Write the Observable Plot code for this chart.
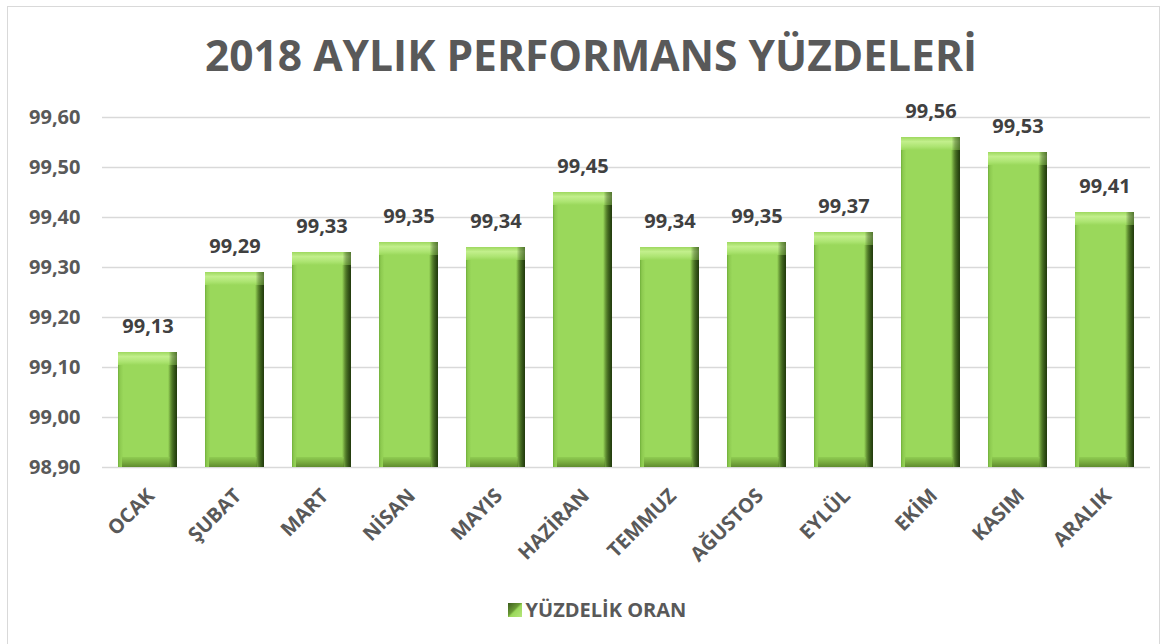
<!DOCTYPE html>
<html><head><meta charset="utf-8">
<script src="https://cdn.jsdelivr.net/npm/d3@7"></script>
<script src="https://cdn.jsdelivr.net/npm/@observablehq/plot@0.6"></script>
<style>
body{margin:0;background:#fff;font-family:"Open Sans",sans-serif;width:1174px;height:644px;overflow:hidden;position:relative}
#frame{position:absolute;left:7px;top:6px;width:1153px;height:660px;border:1px solid #d9d9d9;box-sizing:border-box}
#title{position:absolute;left:4px;top:26px;width:1174px;text-align:center;font-size:42.5px;font-weight:700;color:#595959;white-space:nowrap}
#chart{position:absolute;left:0;top:90px}
#legend{position:absolute;top:596px;left:10px;width:1174px;display:flex;justify-content:center;align-items:center;font-size:20px;font-weight:700;color:#595959}
#legend .sw{width:14px;height:14px;margin-right:4px;background:linear-gradient(135deg,#3b5c1c 0%,#6a9a35 45%,#9bd95b 55%,#b6e67c 100%)}
</style></head>
<body>
<div id="frame"></div>
<div id="title">2018 AYLIK PERFORMANS YÜZDELERİ</div>
<div id="chart"></div>
<div id="legend"><div class="sw"></div><span>YÜZDELİK ORAN</span></div>
<script>
const months = ["OCAK","ŞUBAT","MART","NİSAN","MAYIS","HAZİRAN","TEMMUZ","AĞUSTOS","EYLÜL","EKİM","KASIM","ARALIK"];
const values = [99.13,99.29,99.33,99.35,99.34,99.45,99.34,99.35,99.37,99.56,99.53,99.41];
const yTicks = [98.9,99.0,99.1,99.2,99.3,99.4,99.5,99.6];
const yMin = 98.9, yMax = 99.6;

const data = months.map((m,i)=>({m, v: values[i]}));
const fmt = v => v.toFixed(2).replace(".", ",");

const plot = Plot.plot({
  width: 1174, height: 500,
  marginLeft: 102, marginRight: 24, marginTop: 27, marginBottom: 123,
  style: {fontFamily: '"Open Sans", sans-serif', background: "transparent"},
  x: {domain: months, paddingInner: 0.32, paddingOuter: 0.16, label: null},
  y: {domain: [yMin, yMax], label: null},
  marks: [
    Plot.gridY(yTicks, {stroke: "#d9d9d9", strokeOpacity: 1, strokeWidth: 1.3}),
    Plot.axisY({ticks: yTicks, tickFormat: fmt, tickSize: 0, tickPadding: 22, fontSize: 20, fontWeight: 700, color: "#595959", label: null}),
    Plot.axisX({tickSize: 0, tickPadding: 25, tickRotate: -45, fontSize: 20, fontWeight: 700, color: "#595959", label: null, dx: 3}),
    Plot.barY(data, {x: "m", y1: () => yMin, y2: "v", fill: "url(#gH)"}),
    Plot.barY(data, {x: "m", y1: "v", y2: d => d.v - 0.026, fill: "url(#gTop)"}),
    Plot.barY(data, {x: "m", y1: () => yMin, y2: () => yMin + 0.02, fill: "url(#gBot)", insetLeft: 4, insetRight: 7}),
    Plot.barY(data, {x: "m", y1: () => yMin, y2: "v", fill: "url(#gSide)"}),
    Plot.text(data, {x: "m", y: "v", text: d => fmt(d.v), dy: -26, fontSize: 20, fontWeight: 700, fill: "#404040"})
  ]
});

const defs = `
<defs>
<linearGradient id="gH" x1="0" x2="1" y1="0" y2="0">
  <stop offset="0" stop-color="#6fae3a"/>
  <stop offset="0.03" stop-color="#8cc94f"/>
  <stop offset="0.09" stop-color="#9ad85b"/>
  <stop offset="0.84" stop-color="#9ad85b"/>
  <stop offset="0.9" stop-color="#77ad3f"/>
  <stop offset="0.96" stop-color="#4a7325"/>
  <stop offset="1" stop-color="#2e4a14"/>
</linearGradient>
<linearGradient id="gTop" x1="0" x2="0" y1="0" y2="1">
  <stop offset="0" stop-color="#9ed85f"/>
  <stop offset="0.35" stop-color="#c2ef8c"/>
  <stop offset="0.75" stop-color="#ace471"/>
  <stop offset="1" stop-color="#9ad85b"/>
</linearGradient>
<linearGradient id="gBot" x1="0" x2="0" y1="0" y2="1">
  <stop offset="0" stop-color="#8fcc52"/>
  <stop offset="0.5" stop-color="#7aae40"/>
  <stop offset="1" stop-color="#5f8c2e"/>
</linearGradient>
<linearGradient id="gSide" x1="0" x2="1" y1="0" y2="0">
  <stop offset="0" stop-color="#000" stop-opacity="0"/>
  <stop offset="0.86" stop-color="#000" stop-opacity="0"/>
  <stop offset="0.92" stop-color="#1a3008" stop-opacity="0.35"/>
  <stop offset="1" stop-color="#1a3008" stop-opacity="0.6"/>
</linearGradient>
</defs>`;
plot.insertAdjacentHTML("afterbegin", defs);
document.getElementById("chart").appendChild(plot);
</script>
</body></html>
